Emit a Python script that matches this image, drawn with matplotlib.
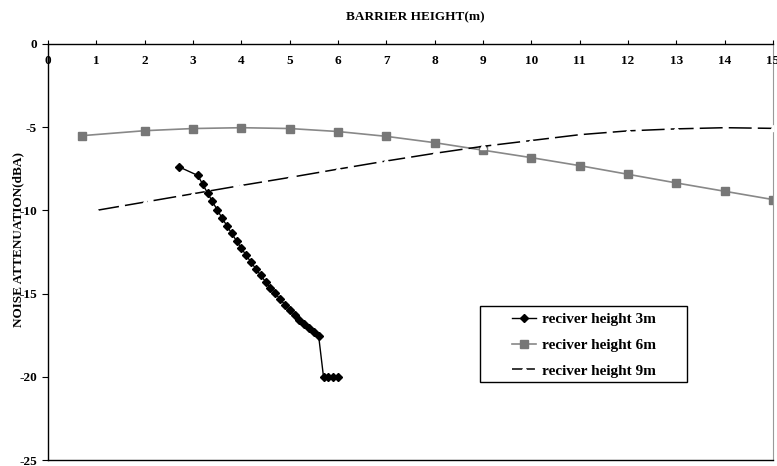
import numpy as np
import matplotlib
matplotlib.use('Agg')
import matplotlib.pyplot as plt
from matplotlib.patches import Rectangle

plt.rcParams['font.family'] = ['Liberation Serif', 'DejaVu Serif']
plt.rcParams['font.weight'] = 'bold'

# receiver height 3m
x3 = [2.7, 3.1, 3.2, 3.3, 3.4, 3.5, 3.6, 3.7, 3.8, 3.9, 4.0, 4.1, 4.2, 4.3, 4.4,
      4.5, 4.6, 4.7, 4.8, 4.9, 5.0, 5.1, 5.2, 5.3, 5.4, 5.5, 5.6, 5.7, 5.8, 5.9, 6.0]
y3 = [-7.37, -7.90, -8.43, -8.95, -9.46, -9.96, -10.45, -10.92, -11.38, -11.83,
      -12.27, -12.70, -13.11, -13.51, -13.90, -14.28, -14.64, -14.99, -15.33,
      -15.66, -15.97, -16.27, -16.56, -16.83, -17.09, -17.33, -17.56,
      -20.0, -20.0, -20.0, -20.0]

# receiver height 6m
x6 = [0.7, 2, 3, 4, 5, 6, 7, 8, 9, 10, 11, 12, 13, 14, 15]
y6 = [-5.51, -5.21, -5.08, -5.03, -5.08, -5.26, -5.55, -5.93, -6.38, -6.83,
      -7.31, -7.83, -8.35, -8.85, -9.35]

# receiver height 9m
x9 = [1, 2, 3, 4, 5, 6, 7, 8, 9, 10, 11, 12, 13, 14, 15]
y9 = [-10.0, -9.5, -9.0, -8.5, -8.02, -7.52, -7.03, -6.57, -6.15, -5.8,
      -5.45, -5.22, -5.1, -5.03, -5.07]

x_ticks = list(range(0, 16))
y_ticks = [0, -5, -10, -15, -20, -25]

fig = plt.figure(figsize=(7.77, 4.66), dpi=100)
ax = fig.add_axes([48 / 777, 6 / 466, 725 / 777, 416 / 466])

ax.plot(x6, y6, color='#888888', lw=1.2, marker='s', ms=5.5,
        mfc='#777777', mec='#777777', label='reciver height 6m', zorder=2)
ax.plot(x9, y9, color='black', lw=1.1, dashes=(15, 4), marker='^', ms=5,
        mfc='white', mec='white', label='reciver height 9m', zorder=3)
ax.plot(x3, y3, color='black', lw=1.0, marker='D', ms=3.8,
        mfc='black', mec='black', label='reciver height 3m', zorder=4)

ax.set_xlim(0, 15)
ax.set_ylim(-25, 0)

# x axis sits at the top, labels just under the line
ax.set_xticks(x_ticks)
ax.tick_params(axis='x', top=True, bottom=False, labeltop=False,
               labelbottom=False, direction='out', length=3, width=0.8)
for xv in x_ticks:
    ax.text(xv, -1.0, str(xv), ha='center', va='center', fontsize=9.5,
            fontweight='bold')

ax.set_yticks(y_ticks)
ax.set_yticklabels([str(v) for v in y_ticks], fontsize=9.5, fontweight='bold')
ax.tick_params(axis='y', direction='out', length=4, width=0.8, pad=4)

for s in ['left', 'top', 'bottom']:
    ax.spines[s].set_color('black')
    ax.spines[s].set_linewidth(1.0)
ax.spines['right'].set_color('#999999')
ax.spines['right'].set_linewidth(0.8)

# legend box with wide side padding, like the original
ax.add_patch(Rectangle((0.596, 0.1875), 0.2855, 0.1827, transform=ax.transAxes,
                       fill=True, facecolor='white', edgecolor='black',
                       lw=1.0, zorder=5))
handles, labels = ax.get_legend_handles_labels()
order = [2, 0, 1]
leg = ax.legend([handles[i] for i in order], [labels[i] for i in order],
                loc='center left', bbox_to_anchor=(0.640, 0.276),
                frameon=False, borderpad=0, borderaxespad=0,
                prop={'size': 11, 'weight': 'bold'}, handlelength=1.6,
                labelspacing=0.78, handletextpad=0.35)
leg.set_zorder(6)

fig.text(0.535, 0.963, 'BARRIER HEIGHT(m)', ha='center', va='center',
         fontsize=9.5, fontweight='bold')
fig.text(0.024, 0.485, 'NOISE ATTENUATION(dBA)', ha='center', va='center',
         rotation=90, fontsize=9.5, fontweight='bold')

fig.savefig('out.png', dpi=100)
